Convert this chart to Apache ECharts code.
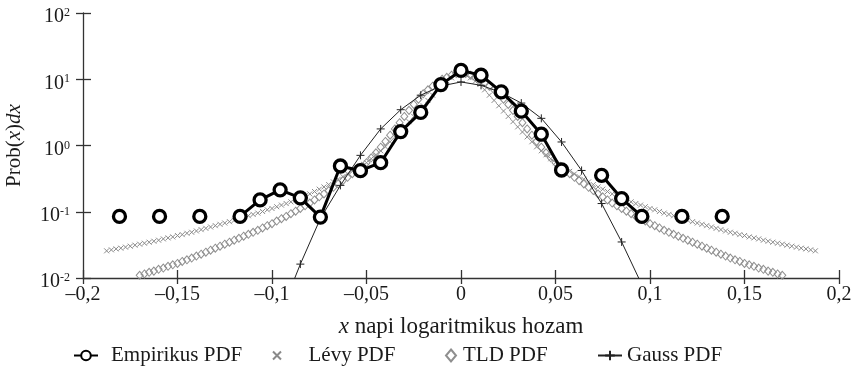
<!DOCTYPE html>
<html><head><meta charset="utf-8">
<script src="https://cdn.jsdelivr.net/npm/echarts@6/dist/echarts.min.js"></script>
<style>html,body{margin:0;padding:0;background:#fff}#c{width:856px;height:377px}</style>
</head><body><div id="c"></div>
<script>
// ---- data ----
const seriesNames = ['Empirikus PDF', 'Lévy PDF', 'TLD PDF', 'Gauss PDF'];
const xTicks = [-0.2, -0.15, -0.1, -0.05, 0, 0.05, 0.1, 0.15, 0.2];
const yTicks = [0.01, 0.1, 1, 10, 100];

// empirical histogram bins (null = empty bin)
const empX = [-0.1807,-0.1701,-0.1595,-0.1488,-0.1382,-0.1276,-0.1169,-0.1063,-0.0957,-0.0850,-0.0744,-0.0638,-0.0532,-0.0425,-0.0319,-0.0213,-0.0106,0,0.0106,0.0213,0.0319,0.0425,0.0532,0.0638,0.0744,0.0850,0.0957,0.1063,0.1169,0.1276,0.1382];
const empY = [0.085,null,0.085,null,0.085,null,0.085,0.151,0.214,0.162,0.083,0.49,0.417,0.55,1.62,3.16,8.3,13.6,11.5,6.46,3.31,1.48,0.427,null,0.355,0.158,0.085,null,0.085,null,0.085];

// Gauss fit at the bin centres
const gaussX = [-0.0957,-0.0850,-0.0744,-0.0638,-0.0532,-0.0425,-0.0319,-0.0213,-0.0106,0,0.0106,0.0213,0.0319,0.0425,0.0532,0.0638,0.0744,0.0850,0.0957];
const gaussY = [0.0028,0.0162,0.079,0.25,0.71,1.78,3.47,5.75,7.9,9.1,8.1,6.3,4.37,2.57,1.13,0.42,0.133,0.035,0.0079];

// Lévy PDF, x from -0.1875 to 0.1875 step 0.0025
const levyX0 = -0.1875, levyDx = 0.0025;
const levyY = [0.0257,0.0266,0.0275,0.0282,0.0292,0.0302,0.0313,0.0324,0.0335,0.0347,0.0359,0.0372,0.0389,0.0403,0.0417,0.0437,0.0452,0.0473,0.0490,0.0513,0.0537,0.0562,0.0589,0.0617,0.0646,0.0676,0.0708,0.0741,0.0776,0.0822,0.0871,0.0912,0.0955,0.101,0.107,0.112,0.119,0.126,0.133,0.141,0.151,0.162,0.174,0.186,0.202,0.219,0.237,0.257,0.282,0.309,0.339,0.372,0.407,0.452,0.495,0.550,0.631,0.724,0.832,0.955,1.14,1.35,1.60,1.91,2.29,2.75,3.31,3.98,4.79,5.75,6.92,8.32,9.33,10.5,11.7,
13.2,
11.7,10.5,9.33,8.32,6.92,5.75,4.79,3.98,3.31,2.75,2.29,1.91,1.60,1.35,1.14,0.955,0.832,0.724,0.631,0.550,0.495,0.452,0.407,0.372,0.339,0.309,0.282,0.257,0.237,0.219,0.202,0.186,0.174,0.162,0.151,0.141,0.133,0.126,0.119,0.112,0.107,0.101,0.0955,0.0912,0.0871,0.0822,0.0776,0.0741,0.0708,0.0676,0.0646,0.0617,0.0589,0.0562,0.0537,0.0513,0.0490,0.0473,0.0452,0.0437,0.0417,0.0403,0.0389,0.0372,0.0359,0.0347,0.0335,0.0324,0.0313,0.0302,0.0292,0.0282,0.0275,0.0266,0.0257];

// TLD PDF, x from -0.17 to 0.17 step 0.0025
const tldX0 = -0.17, tldDx = 0.0025;
const tldY = [0.0110,0.0115,0.0122,0.0127,0.0135,0.0141,0.0150,0.0158,0.0166,0.0178,0.0188,0.0200,0.0214,0.0229,0.0245,0.0263,0.0282,0.0302,0.0324,0.0347,0.0372,0.0398,0.0427,0.0457,0.0490,0.0525,0.0569,0.0617,0.0661,0.0724,0.0785,0.0851,0.0933,0.102,0.112,0.123,0.135,0.151,0.168,0.186,0.209,0.234,0.263,0.295,0.331,0.376,0.427,0.484,0.550,0.653,0.776,0.944,1.15,1.43,1.78,2.21,2.75,3.39,4.17,5.01,6.03,6.92,7.85,8.91,10.0,10.7,11.5,12.2,
12.6,
12.2,11.5,10.7,10.0,8.91,7.85,6.92,6.03,5.01,4.17,3.39,2.75,2.21,1.78,1.43,1.15,0.944,0.776,0.653,0.550,0.484,0.427,0.376,0.331,0.295,0.263,0.234,0.209,0.186,0.168,0.151,0.135,0.123,0.112,0.102,0.0933,0.0851,0.0785,0.0724,0.0661,0.0617,0.0569,0.0525,0.0490,0.0457,0.0427,0.0398,0.0372,0.0347,0.0324,0.0302,0.0282,0.0263,0.0245,0.0229,0.0214,0.0200,0.0188,0.0178,0.0166,0.0158,0.0150,0.0141,0.0135,0.0127,0.0122,0.0115,0.0110];

// ---- chart ----
const FONT = 'Liberation Serif';
const AX = '#333';
const TXT = '#1a1a1a';
const chart = echarts.init(document.getElementById('c'));

const xFmt = v => {
  if (Math.abs(v) < 1e-9) return '0';
  return Number(v.toFixed(2)).toString().replace('.', ',').replace('-', '\u2013');
};
const yFmt = v => {
  const e = Math.round(Math.log10(v));
  return '{b|10}{s|' + (e < 0 ? '-' : '') + Math.abs(e) + '}';
};
const crossPath = 'path://M0,0L10,10M10,0L0,10';
const plusPath = 'path://M5,0L5,10M0,5L10,5';

const legendBase = {top: 340, itemHeight: 12, textStyle: {fontFamily: FONT, fontSize: 21, color: TXT}};

chart.setOption({
  animation: false,
  backgroundColor: '#fff',
  textStyle: {fontFamily: FONT},
  grid: {left: 83, right: 17, top: 13, bottom: 99, containLabel: false, outerBoundsMode: 'none'},
  legend: [
    Object.assign({}, legendBase, {data: [seriesNames[0]], left: 68, itemWidth: 24, textStyle: Object.assign({}, legendBase.textStyle, {padding: [0,0,0,8]})}),
    Object.assign({}, legendBase, {data: [seriesNames[1]], left: 267, itemWidth: 9, itemHeight: 8, textStyle: Object.assign({}, legendBase.textStyle, {padding: [0,0,0,22]})}),
    Object.assign({}, legendBase, {data: [seriesNames[2]], left: 440, itemWidth: 10, itemHeight: 12, textStyle: Object.assign({}, legendBase.textStyle, {padding: [0,0,0,2]})}),
    Object.assign({}, legendBase, {data: [seriesNames[3]], left: 592, itemWidth: 24, textStyle: Object.assign({}, legendBase.textStyle, {padding: [0,0,0,0]})})
  ],
  xAxis: [{
    type: 'value', min: xTicks[0], max: xTicks[xTicks.length - 1], interval: 0.05,
    name: '{i|x}{n| napi logaritmikus hozam}', nameLocation: 'middle', nameGap: 37,
    nameTextStyle: {rich: {i: {fontFamily: FONT, fontStyle: 'italic', fontSize: 23, color: TXT}, n: {fontFamily: FONT, fontSize: 23, color: TXT}}},
    axisLine: {show: true, onZero: false, lineStyle: {color: AX, width: 1.3}},
    axisTick: {show: true, inside: true, length: 8, lineStyle: {color: AX, width: 1.3}},
    axisLabel: {formatter: xFmt, fontFamily: FONT, fontSize: 20, color: TXT, margin: 7},
    splitLine: {show: false}
  }, {
    type: 'value', position: 'bottom', min: xTicks[0], max: xTicks[xTicks.length - 1], interval: 0.05,
    axisLine: {show: false, onZero: false}, axisLabel: {show: false}, splitLine: {show: false},
    axisTick: {show: true, inside: false, length: 6, lineStyle: {color: AX, width: 1.3}}
  }],
  yAxis: [{
    type: 'log', logBase: 10, min: yTicks[0], max: yTicks[yTicks.length - 1],
    name: '{n|Prob(}{i|x}{n|)}{i|dx}', nameLocation: 'middle', nameGap: 58, nameRotate: 90,
    nameTextStyle: {rich: {i: {fontFamily: FONT, fontStyle: 'italic', fontSize: 21, color: TXT}, n: {fontFamily: FONT, fontSize: 21, color: TXT}}},
    axisLine: {show: true, onZero: false, lineStyle: {color: AX, width: 1.3}},
    axisTick: {show: true, inside: true, length: 8, lineStyle: {color: AX, width: 1.3}},
    minorTick: {show: false},
    axisLabel: {formatter: yFmt, margin: 13, padding: [8, 0, 0, 0],
      rich: {b: {fontFamily: FONT, fontSize: 20, color: TXT}, s: {fontFamily: FONT, fontSize: 12, color: TXT, verticalAlign: 'top'}}},
    splitLine: {show: false}
  }, {
    type: 'log', logBase: 10, position: 'left', min: yTicks[0], max: yTicks[yTicks.length - 1],
    axisLine: {show: false, onZero: false}, axisLabel: {show: false}, splitLine: {show: false},
    axisTick: {show: true, inside: false, length: 7, lineStyle: {color: AX, width: 1.3}}
  }],
  series: [
    {
      name: seriesNames[1], type: 'scatter', z: 2,
      data: levyY.map((y, i) => [levyX0 + i * levyDx, y]),
      symbol: crossPath, symbolSize: 5,
      itemStyle: {color: 'rgba(0,0,0,0)', borderColor: '#8a8a8a', borderWidth: 1, opacity: 1}
    },
    {
      name: seriesNames[2], type: 'scatter', z: 2,
      data: tldY.map((y, i) => [tldX0 + i * tldDx, y]),
      symbol: 'diamond', symbolSize: [7, 8],
      itemStyle: {color: 'rgba(0,0,0,0)', borderColor: '#8f8f8f', borderWidth: 1, opacity: 1}
    },
    {
      name: seriesNames[3], type: 'line', z: 3, clip: true,
      data: gaussX.map((x, i) => [x, gaussY[i]]),
      symbol: plusPath, symbolSize: 8, showAllSymbol: true,
      lineStyle: {color: '#222', width: 1},
      itemStyle: {color: '#222', borderColor: '#222', borderWidth: 1}
    },
    {
      name: seriesNames[0], type: 'line', z: 5, connectNulls: false,
      data: empX.map((x, i) => [x, empY[i]]),
      symbol: 'circle', symbolSize: 12, showAllSymbol: true,
      lineStyle: {color: '#000', width: 3},
      itemStyle: {color: '#fff', borderColor: '#000', borderWidth: 3.3}
    }
  ]
});
</script></body></html>
